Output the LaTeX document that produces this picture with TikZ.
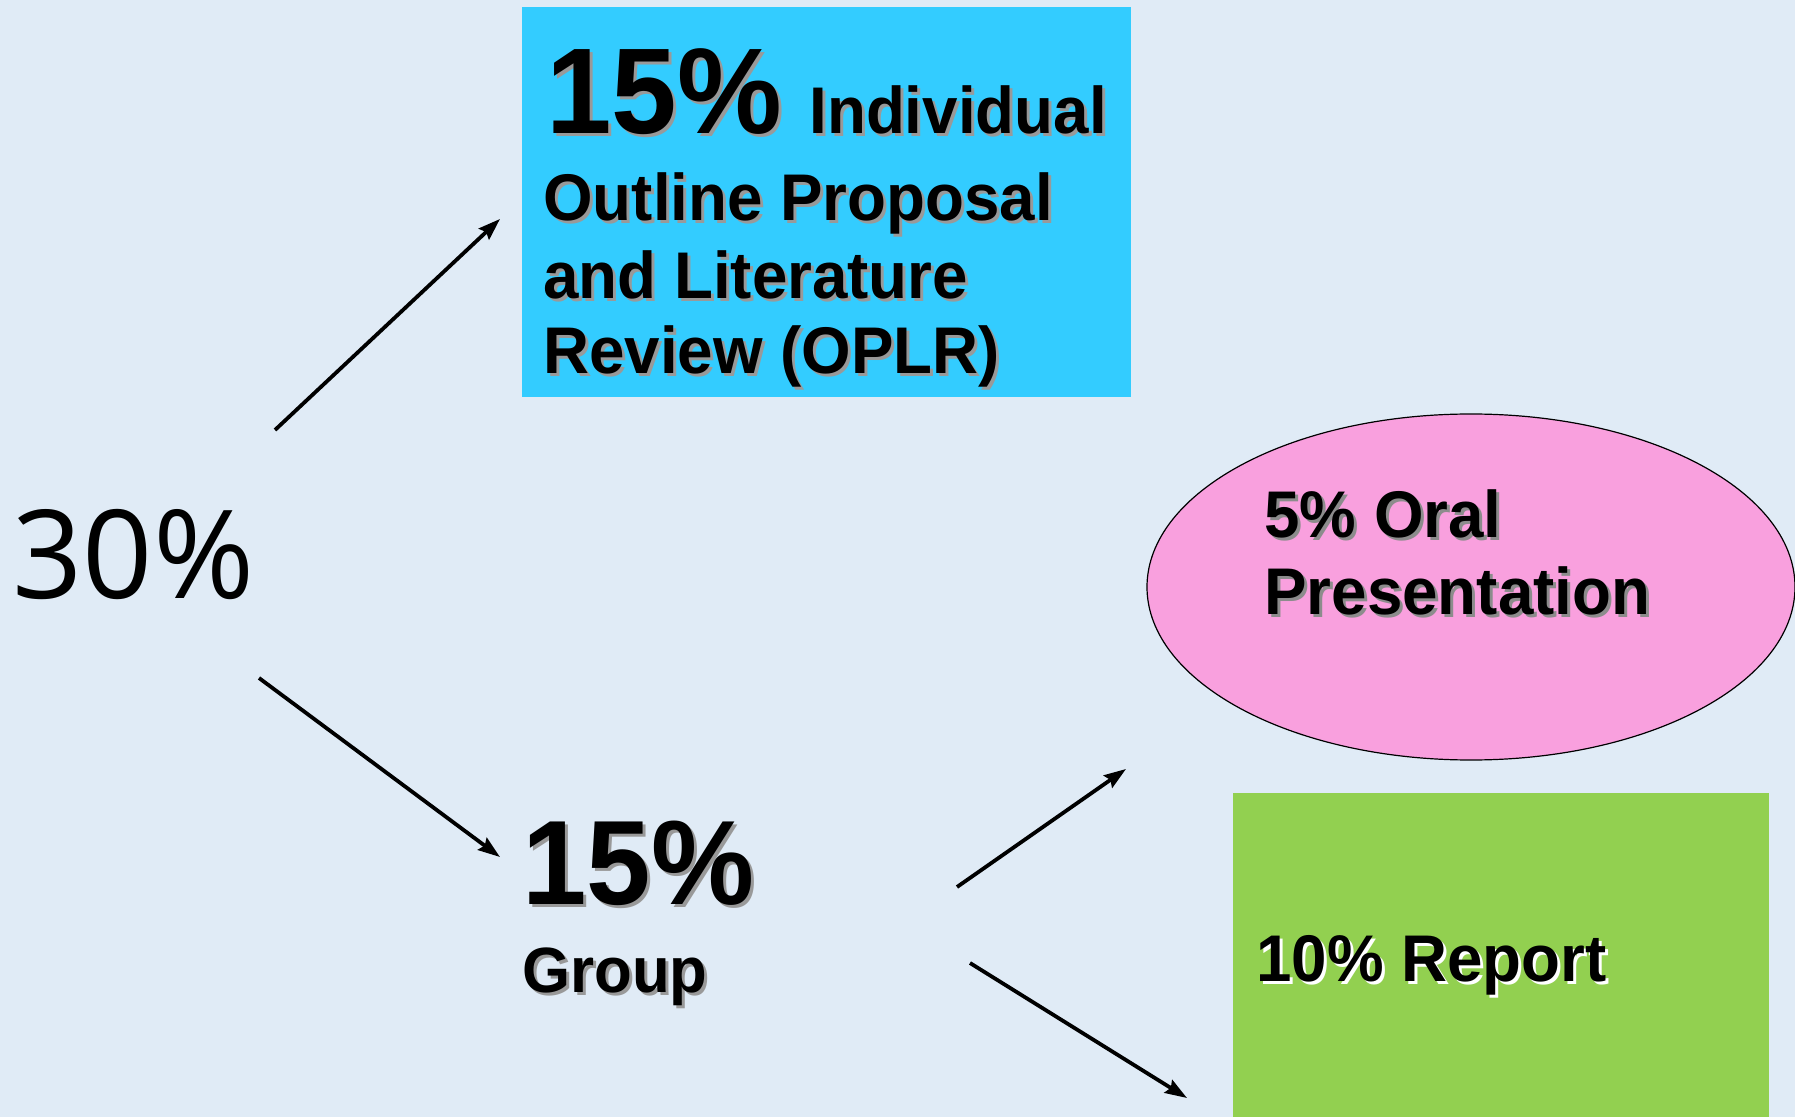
\documentclass[tikz,border=0pt]{standalone}
\usepackage{fontspec}
\setmainfont{Liberation Sans}
\newfontfamily\boldc{Liberation Sans}[FakeStretch=0.965]
\newfontfamily\opensans{Open Sans}
\usetikzlibrary{arrows.meta,shapes.geometric}
\definecolor{bgc}{RGB}{224,235,246}
\definecolor{boxblue}{RGB}{51,204,255}
\definecolor{pinkc}{RGB}{249,160,222}
\definecolor{greenc}{RGB}{146,208,80}
\newcommand\shd[2][black!40]{\leavevmode\rlap{\kern1.5pt\raisebox{-1.5pt}{\color{#1}#2}}#2}
\tikzset{
  lbl/.style={inner sep=0pt, anchor=base west, font=\boldc\bfseries},
  arr/.style={line width=1.9pt, -{Stealth[length=11pt,width=7.5pt,inset=1.5pt]}},
}
\begin{document}
\begin{tikzpicture}[x=0.5pt,y=-0.5pt]
\useasboundingbox (0,0) rectangle (1795,1117);
\fill[bgc] (0,0) rectangle (1795,1117);

% boxes
\node[fill=boxblue, minimum width=304.5pt, minimum height=195pt, anchor=north west, inner sep=0pt] (indiv) at (522,7) {};
\node[ellipse, fill=pinkc, draw=black, line width=0.6pt, minimum width=324pt, minimum height=173pt, inner sep=0pt] (oral) at (1471,587) {};
\node[fill=greenc, minimum width=268pt, minimum height=162pt, anchor=north west, inner sep=0pt] (report) at (1233,793) {};

% texts
\node[inner sep=0pt, anchor=base west, font=\opensans\fontsize{61.5}{61.5}\selectfont] (total) at (12,598) {30\%};

\node[lbl] (ip) at (546,134) {\fontsize{61}{61}\selectfont\shd{15\%}};
\node[lbl] (il) at (809,134) {\fontsize{33}{33}\selectfont\shd{Individual}};
\node[lbl] (l1) at (543,221) {\fontsize{33}{33}\selectfont\shd{Outline Proposal}};
\node[lbl] (l2) at (543,299) {\fontsize{33}{33}\selectfont\shd{and Literature}};
\node[lbl] (l3) at (543,374) {\fontsize{33}{33}\selectfont\shd{Review (OPLR)}};

\node[lbl] (gp) at (522,904) {\fontsize{60}{60}\selectfont\shd{15\%}};
\node[lbl] (gl) at (522,992) {\fontsize{32}{32}\selectfont\shd{Group}};

\node[lbl] (o1) at (1264,538) {\fontsize{33}{33}\selectfont\shd[black!45]{5\% Oral}};
\node[lbl] (o2) at (1264,615) {\fontsize{33}{33}\selectfont\shd[black!45]{Presentation}};

\node[lbl] (r1) at (1256,981) {\fontsize{33}{33}\selectfont\shd[white]{10\% Report}};

% arrows
\coordinate (a1s) at (275,430);
\coordinate (a1e) at (500,219);
\coordinate (a2s) at (259,678);
\coordinate (a2e) at (500,857);
\coordinate (a3s) at (957,887);
\coordinate (a3e) at (1126,769);
\coordinate (a4s) at (970,963);
\coordinate (a4e) at (1187,1098);
\draw[arr] (a1s) -- (a1e);
\draw[arr] (a2s) -- (a2e);
\draw[arr] (a3s) -- (a3e);
\draw[arr] (a4s) -- (a4e);
\end{tikzpicture}
\end{document}
